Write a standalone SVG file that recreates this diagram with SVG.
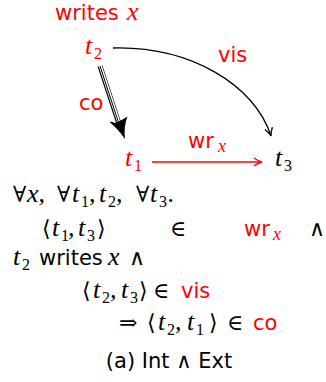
<svg xmlns="http://www.w3.org/2000/svg" width="326" height="382" viewBox="0 0 326 382">
<style>
.sf{font-family:"DejaVu Sans","Liberation Sans",sans-serif;font-size:21px}
.mi{font-family:"Liberation Serif","DejaVu Serif",serif;font-style:italic;font-size:26px}
.sub{font-family:"Liberation Serif","DejaVu Serif",serif;font-size:16px}
.subi{font-family:"Liberation Serif","DejaVu Serif",serif;font-style:italic;font-size:18px}
.sym{font-family:"DejaVu Serif","Liberation Serif",serif;font-size:22px}
.red{fill:#ff0000}
.blk{fill:#000000}
</style>
<defs>
<marker id="hk" viewBox="0 0 10 10" refX="9" refY="5" markerWidth="10" markerHeight="10" markerUnits="userSpaceOnUse" orient="auto">
<path d="M1,1 Q5,4 9,5 Q5,6 1,9" fill="none" stroke="#000" stroke-width="1.3"/>
</marker>
<marker id="hr" viewBox="0 0 10 10" refX="9" refY="5" markerWidth="10" markerHeight="10" markerUnits="userSpaceOnUse" orient="auto">
<path d="M1,1 Q5,4 9,5 Q5,6 1,9" fill="none" stroke="#ff0000" stroke-width="1.3"/>
</marker>
</defs>

<g id="label-writes">
<text class="sf red" x="55" y="20">writes</text><text class="mi red" x="127" y="20">x</text>
</g>
<g id="node-t2">
<text class="mi red" x="85" y="54">t</text><text class="sub red" x="94" y="59">2</text>
</g>
<g id="node-t1">
<text class="mi red" x="125" y="166">t</text><text class="sub red" x="134" y="171">1</text>
</g>
<g id="node-t3">
<text class="mi blk" x="275" y="166">t</text><text class="sub blk" x="284" y="171">3</text>
</g>

<g id="connectors">
<path d="M113,48 C190,46 255,85 271,136" fill="none" stroke="#000" stroke-width="1.3" marker-end="url(#hk)"/>
<line x1="152" y1="162" x2="262" y2="162" stroke="#ff0000" stroke-width="1.3" marker-end="url(#hr)"/>
<line x1="100" y1="66" x2="120" y2="127" stroke="#000" stroke-width="5"/>
<line x1="100" y1="65" x2="120.5" y2="127.5" stroke="#fff" stroke-width="3.2"/>
<line x1="100" y1="66" x2="120" y2="127" stroke="#000" stroke-width="1"/>
<path d="M125,139 Q123.5,126 127.5,116.5 Q121,121 115,123 Q111,121 109.5,122 Q118,129 125,139 Z" fill="#000"/>
<text class="sf red" x="218" y="62">vis</text>
<text class="sf red" x="79" y="110">co</text>
<text class="sf red" x="188" y="148">wr</text><text class="subi red" x="218" y="152">x</text>
</g>

<g id="formula">
<text class="sym" x="13" y="202">∀</text><text class="mi" x="27" y="202">x,</text>
<text class="sym" x="57" y="202">∀</text><text class="mi" x="72" y="202">t</text><text class="sub" x="81" y="207">1</text><text class="mi" x="89" y="202">,</text>
<text class="mi" x="99" y="202">t</text><text class="sub" x="108" y="207">2</text><text class="mi" x="116" y="202">,</text>
<text class="sym" x="136" y="202">∀</text><text class="mi" x="150" y="202">t</text><text class="sub" x="159" y="207">3</text><text class="mi" x="168" y="202">.</text>

<text class="sym" x="42" y="236">⟨</text><text class="mi" x="52" y="236">t</text><text class="sub" x="61" y="241">1</text><text class="mi" x="68" y="236">,</text>
<text class="mi" x="78" y="236">t</text><text class="sub" x="87" y="241">3</text><text class="sym" x="97" y="236">⟩</text>
<text class="sym" x="170" y="236">∈</text>
<text class="sf red" x="244" y="236">wr</text><text class="subi red" x="273" y="240">x</text>
<text class="sym" x="309" y="236">∧</text>

<text class="mi" x="13" y="265">t</text><text class="sub" x="22" y="270">2</text>
<text class="sf" x="39" y="265">writes</text><text class="mi" x="108" y="265">x</text><text class="sym" x="129" y="265">∧</text>

<text class="sym" x="82" y="298">⟨</text><text class="mi" x="93" y="298">t</text><text class="sub" x="102" y="303">2</text><text class="mi" x="110" y="298">,</text>
<text class="mi" x="121" y="298">t</text><text class="sub" x="130" y="303">3</text><text class="sym" x="139" y="298">⟩</text>
<text class="sym" x="153" y="298">∈</text><text class="sf red" x="181" y="298">vis</text>

<text class="sym" x="119" y="330">⇒</text>
<text class="sym" x="147" y="330">⟨</text><text class="mi" x="158" y="330">t</text><text class="sub" x="167" y="335">2</text><text class="mi" x="175" y="330">,</text>
<text class="mi" x="187" y="330">t</text><text class="sub" x="196" y="335">1</text><text class="sym" x="209" y="330">⟩</text>
<text class="sym" x="227" y="330">∈</text><text class="sf red" x="253" y="330">co</text>
</g>

<g id="caption">
<text class="sf" x="169" y="368" text-anchor="middle">(a) Int ∧ Ext</text>
</g>
</svg>
